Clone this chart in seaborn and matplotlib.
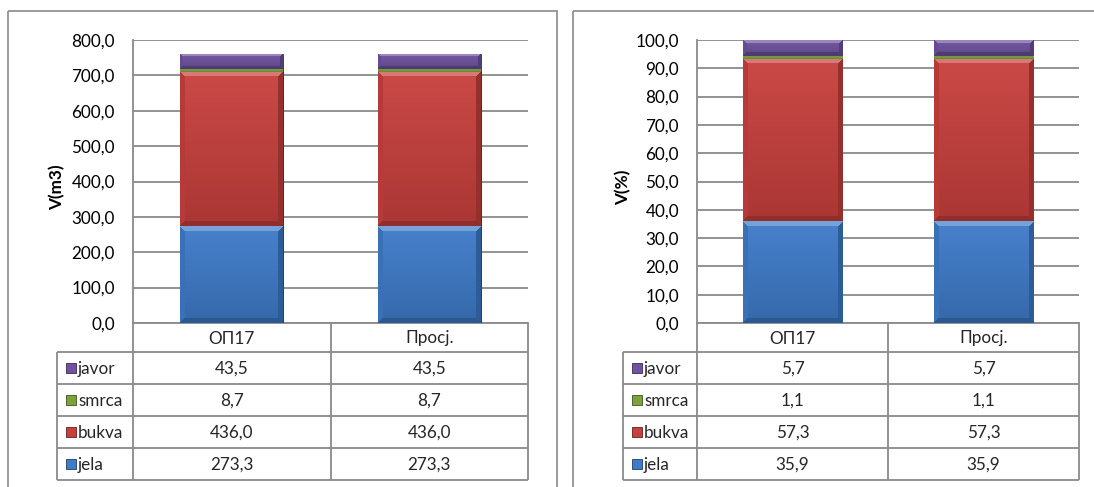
import numpy as np
import pandas as pd
import seaborn as sns
import matplotlib
matplotlib.use("Agg")
import matplotlib.pyplot as plt
from matplotlib.patches import Rectangle
from matplotlib.colors import to_rgb

# ---------------- data ----------------
categories = ["ОП17", "Просј."]
species_table_order = ["javor", "smrca", "bukva", "jela"]
jela_m3 = [273.3, 273.3]
bukva_m3 = [436.0, 436.0]
smrca_m3 = [8.7, 8.7]
javor_m3 = [43.5, 43.5]
jela_pct = [35.9, 35.9]
bukva_pct = [57.3, 57.3]
smrca_pct = [1.1, 1.1]
javor_pct = [5.7, 5.7]
yticks_m3 = [0, 100, 200, 300, 400, 500, 600, 700, 800]
yticks_pct = [0, 10, 20, 30, 40, 50, 60, 70, 80, 90, 100]
ylabel_m3 = "V(m3)"
ylabel_pct = "V(%)"

colors = {"jela": "#3E7BC9", "bukva": "#C8403D", "smrca": "#7CA23C", "javor": "#6F52A0"}

sns.set_theme(style="white")
plt.rcParams["font.family"] = ["Lato", "DejaVu Sans"]
FS = 12.3
GRID = "#8a8a8a"

W, H = 1094, 487
fig = plt.figure(figsize=(W / 100, H / 100), dpi=100)
fig.patch.set_facecolor("white")

ov = fig.add_axes([0, 0, 1, 1], zorder=0)
ov.set_xlim(0, W)
ov.set_ylim(H, 0)
ov.axis("off")

TOP, ZERO, HDR = 40, 323, 352
ROWS = [352, 384, 416, 448, 480]


def fmt(v):
    return f"{v:.1f}".replace(".", ",")


def shade(c, f):
    r, g, b = to_rgb(c)
    if f >= 0:
        return np.array((r + (1 - r) * f, g + (1 - g) * f, b + (1 - b) * f))
    return np.array((r * (1 + f), g * (1 + f), b * (1 + f)))


def bevel_image(color, hp, wp):
    hp, wp = max(hp, 1), max(wp, 1)
    b = min(5, hp // 4)
    img = np.zeros((hp, wp, 3))
    top_c = shade(color, 0.30)
    bot_c = shade(color, -0.28)
    left_c = shade(color, -0.08)
    right_c = shade(color, -0.25)
    for r in range(hp):
        t = r / max(hp - 1, 1)
        body = shade(color, 0.05) * (1 - t) + shade(color, -0.15) * t
        for c in range(wp):
            dt, db, dl, dr = r, hp - 1 - r, c, wp - 1 - c
            m = min(dl, dr)
            if dt < b and dt <= m:
                img[r, c] = top_c
            elif db < b and db <= m:
                img[r, c] = bot_c
            elif dl < b:
                img[r, c] = left_c
            elif dr < b:
                img[r, c] = right_c
            else:
                img[r, c] = body
    return np.clip(img, 0, 1)


def panel(series, ticks, ylabel, box_l, box_r, plot_l, plot_r, table_l):
    ov.add_patch(Rectangle((box_l, 11), box_r - box_l, 600, fill=False,
                           edgecolor=GRID, lw=1.2))
    ax = fig.add_axes([plot_l / W, (H - ZERO) / H, (plot_r - plot_l) / W,
                       (ZERO - TOP) / H], zorder=1)
    ax.set_facecolor("none")
    df = pd.DataFrame({"cat": categories, **{k: v for k, v in series.items()}})
    stack_order = ["jela", "bukva", "smrca", "javor"]
    layers = []
    for i in range(len(stack_order), 0, -1):
        layer = stack_order[i - 1]
        total = df[stack_order[:i]].sum(axis=1)
        n_before = len(ax.patches)
        sns.barplot(x=df["cat"], y=total, color=colors[layer], saturation=1,
                    width=0.52, ax=ax, edgecolor=shade(colors[layer], -0.5),
                    linewidth=0.6, zorder=3)
        lower = df[stack_order[:i - 1]].sum(axis=1) if i > 1 else pd.Series([0.0] * len(df))
        layers.append((layer, lower, ax.patches[n_before:]))
    ax.set_xlim(-0.5, len(categories) - 0.5)
    ax.set_ylim(ticks[0], ticks[-1])
    fig.canvas.draw()
    for layer, lower, patches in layers:
        for j, p in enumerate(patches):
            x0, w = p.get_x(), p.get_width()
            y0, y1 = lower.iloc[j], p.get_height()
            (px0, py0) = ax.transData.transform((x0, y0))
            (px1, py1) = ax.transData.transform((x0 + w, y1))
            hp, wp = int(round(py1 - py0)), int(round(px1 - px0))
            img = bevel_image(colors[layer], hp, wp)
            im = ax.imshow(img, extent=(x0, x0 + w, y0, y1), origin="upper",
                           aspect="auto", zorder=3.5, interpolation="nearest")
            im.set_clip_path(Rectangle((x0, y0), w, y1 - y0, transform=ax.transData))
    ax.set_xlim(-0.5, len(categories) - 0.5)
    ax.set_ylim(ticks[0], ticks[-1])
    ax.set_yticks(ticks)
    ax.set_yticklabels([fmt(t) for t in ticks], fontsize=FS, color="black")
    ax.set_xticks([])
    ax.set_xlabel("")
    ax.tick_params(axis="y", length=0, pad=13)
    ax.yaxis.grid(True, color=GRID, lw=1.3, zorder=0)
    ax.set_axisbelow(True)
    for s in ["top", "right"]:
        ax.spines[s].set_visible(False)
    for s in ["left", "bottom"]:
        ax.spines[s].set_color(GRID)
        ax.spines[s].set_linewidth(1.3)
    ax.set_ylabel(ylabel, fontsize=FS, fontweight="bold", color="black")
    ax.yaxis.set_label_coords(-(plot_l - (table_l + 8)) / (plot_r - plot_l), 0.48)

    # data table
    col_split = (plot_l + plot_r) / 2
    lines_kw = dict(color=GRID, lw=1.3, solid_capstyle="butt")
    for y in ROWS:
        ov.plot([table_l, plot_r], [y, y], **lines_kw)
    ov.plot([table_l, table_l], [HDR, ROWS[-1]], **lines_kw)
    ov.plot([plot_l, plot_l], [ZERO, ROWS[-1]], **lines_kw)
    ov.plot([col_split, col_split], [ZERO, ROWS[-1]], **lines_kw)
    ov.plot([plot_r, plot_r], [ZERO, ROWS[-1]], **lines_kw)
    centers = [(plot_l + col_split) / 2, (col_split + plot_r) / 2]
    for cx, cat in zip(centers, categories):
        ov.text(cx, (ZERO + HDR) / 2 + 1, cat, ha="center", va="center", fontsize=FS)
    for r, sp in enumerate(species_table_order):
        yc = (ROWS[r] + ROWS[r + 1]) / 2 + 1
        ov.add_patch(Rectangle((table_l + 9, yc - 6), 10, 10,
                               facecolor=colors[sp], edgecolor=shade(colors[sp], -0.5), lw=0.6))
        ov.text(table_l + 21, yc, sp, ha="left", va="center", fontsize=FS)
        for cx, v in zip(centers, series[sp]):
            ov.text(cx, yc, fmt(v), ha="center", va="center", fontsize=FS)
    return ax


panel({"jela": jela_m3, "bukva": bukva_m3, "smrca": smrca_m3, "javor": javor_m3},
      yticks_m3, ylabel_m3, 8, 557, 133, 528, 57)
panel({"jela": jela_pct, "bukva": bukva_pct, "smrca": smrca_pct, "javor": javor_pct},
      yticks_pct, ylabel_pct, 573, 1200, 697, 1079, 623)

fig.savefig("out.png", dpi=100, facecolor="white")
